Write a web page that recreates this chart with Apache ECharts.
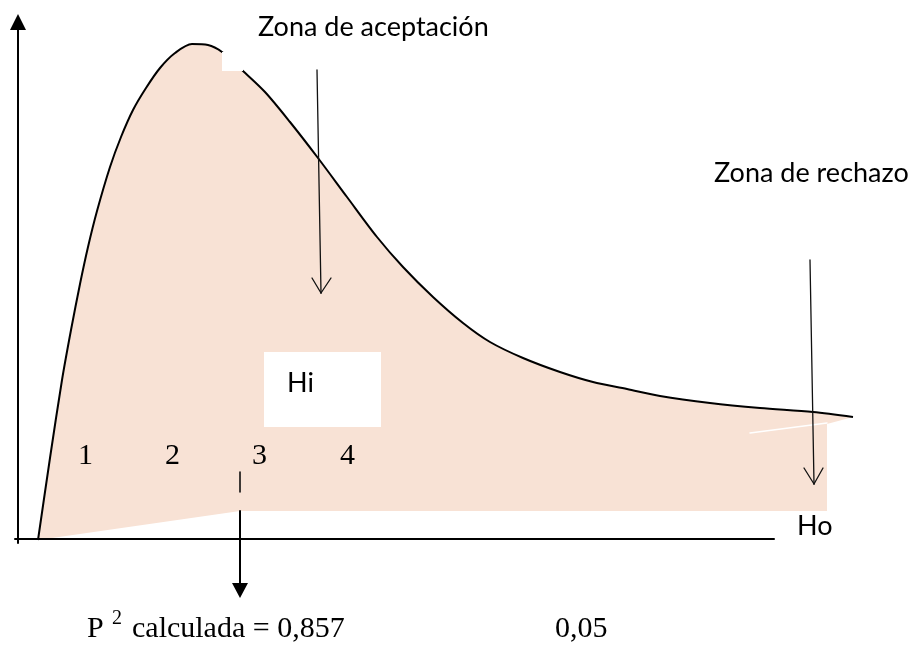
<!DOCTYPE html>
<html>
<head>
<meta charset="utf-8">
<script src="https://cdn.jsdelivr.net/npm/echarts@6/dist/echarts.min.js"></script>
<style>
  html, body { margin: 0; padding: 0; background: #fff; }
  #chart { width: 911px; height: 646px; }
</style>
</head>
<body>
<div id="chart"></div>
<script>
  // distribution curve (x to the right, y downward, same units as the picture)
  var curveX = [38, 50, 62, 71, 80, 88, 97, 110, 121, 133, 146, 160, 175, 192, 208, 222, 243, 265, 290, 318, 347, 377, 403, 433, 463, 490, 523, 560, 593, 627, 660, 710, 760, 813, 853]
  var curveY = [540, 458, 380, 330, 284, 247, 211, 167, 137, 110, 88, 68, 53, 44, 45, 52, 71, 92, 122, 158, 197, 237, 267, 297, 323, 342, 358, 372, 382, 389, 396, 403, 408, 412, 417]
  // lower edge of the shaded zone
  var shadeX = [38, 240, 827, 827, 853]
  var shadeY = [540, 511, 511, 424, 417]
  // white patches: x1, y1, x2, y2
  var patches = [[222, 52, 243, 71], [264, 352, 381, 427]]
  // axes and the marker under "3"
  var axisSegs = [[18, 543, 18, 28], [15, 539, 774, 539], [240, 511, 240, 585]]
  var tickSegs = [[240, 472, 240, 492]]
  // open arrows pointing to the zones
  var arrowSegs = [
    [317, 70, 321, 293], [312, 278, 321, 293], [331, 278, 321, 293],
    [810, 260, 814, 484], [804, 468, 814, 484], [823, 468, 814, 484]
  ]
  var seamSegs = [[750, 433, 827, 423]]
  // filled arrow heads
  var heads = [[[18, 14], [10, 30], [26, 30]], [[240, 598], [232, 583], [248, 583]]]
  // texts
  var sansLabels = [
    { x: 258, y: 27, text: 'Zona de aceptación' },
    { x: 714, y: 173, text: 'Zona de rechazo' },
    { x: 287, y: 383, text: 'Hi' },
    { x: 797, y: 526, text: 'Ho' }
  ]
  var serifLabels = [
    { x: 78, y: 456, text: '1' },
    { x: 165, y: 456, text: '2' },
    { x: 252, y: 456, text: '3' },
    { x: 340, y: 456, text: '4' },
    { x: 87, y: 629, text: 'P' },
    { x: 132, y: 629, text: 'calculada = 0,857' },
    { x: 555, y: 629, text: '0,05' }
  ]
  var supLabels = [{ x: 112, y: 619, text: '2' }]

  var chart = echarts.init(document.getElementById('chart'))

  function segSeries(name, segs, color, width, z) {
    return {
      name: name,
      type: 'custom',
      z: z,
      silent: true,
      data: segs,
      renderItem: function(params, api) {
        var s = segs[params.dataIndex]
        var p1 = api.coord([s[0], s[1]])
        var p2 = api.coord([s[2], s[3]])
        return {
          type: 'line',
          shape: { x1: p1[0], y1: p1[1], x2: p2[0], y2: p2[1] },
          style: { stroke: color, lineWidth: width, lineCap: 'round' }
        }
      }
    }
  }

  function textSeries(name, list, font, z) {
    return {
      name: name,
      type: 'custom',
      z: z,
      silent: true,
      data: list.map(function(d) { return [d.x, d.y] }),
      renderItem: function(params, api) {
        var d = list[params.dataIndex]
        var p = api.coord([d.x, d.y])
        return {
          type: 'text',
          x: p[0],
          y: p[1],
          style: { text: d.text, font: font, fill: '#000', align: 'left', verticalAlign: 'middle' }
        }
      }
    }
  }

  var curveData = curveX.map(function(x, i) { return [x, curveY[i]] })
  var maskPts = []
  for (var i = 0; i < shadeX.length; i++) maskPts.push([shadeX[i], shadeY[i]])

  chart.setOption({
    animation: false,
    grid: { left: 0, right: 0, top: 0, bottom: 0 },
    xAxis: { type: 'value', min: 0, max: 911, show: false },
    yAxis: { type: 'value', min: 0, max: 646, inverse: true, show: false },
    series: [
      {
        name: 'area',
        type: 'line',
        z: 1,
        smooth: 0.3,
        symbol: 'none',
        silent: true,
        data: curveData,
        lineStyle: { width: 0 },
        areaStyle: { color: '#F8E2D5', opacity: 1, origin: 'end' }
      },
      {
        name: 'mask',
        type: 'custom',
        z: 2,
        silent: true,
        data: [0],
        renderItem: function(params, api) {
          var pts = maskPts.map(function(p) { return api.coord(p) })
          pts.push(api.coord([853, 646]))
          pts.push(api.coord([38, 646]))
          return { type: 'polygon', shape: { points: pts }, style: { fill: '#fff' } }
        }
      },
      {
        name: 'curve',
        type: 'line',
        z: 3,
        smooth: 0.3,
        symbol: 'none',
        silent: true,
        data: curveData,
        lineStyle: { color: '#000', width: 2 }
      },
      {
        name: 'patches',
        type: 'custom',
        z: 4,
        silent: true,
        data: patches,
        renderItem: function(params, api) {
          var r = patches[params.dataIndex]
          var a = api.coord([r[0], r[1]])
          var b = api.coord([r[2], r[3]])
          return { type: 'rect', shape: { x: a[0], y: a[1], width: b[0] - a[0], height: b[1] - a[1] }, style: { fill: '#fff' } }
        }
      },
      segSeries('seam', seamSegs, '#fff', 1.5, 4),
      segSeries('axes', axisSegs, '#000', 2, 5),
      segSeries('tick', tickSegs, '#000', 1.5, 5),
      segSeries('arrows', arrowSegs, '#111', 1.3, 5),
      {
        name: 'heads',
        type: 'custom',
        z: 5,
        silent: true,
        data: heads,
        renderItem: function(params, api) {
          var pts = heads[params.dataIndex].map(function(p) { return api.coord(p) })
          return { type: 'polygon', shape: { points: pts }, style: { fill: '#000' } }
        }
      },
      textSeries('sans', sansLabels, '27px Lato', 6),
      textSeries('serif', serifLabels, '30px "Liberation Serif"', 6),
      textSeries('sup', supLabels, '20px "Liberation Serif"', 6)
    ]
  })
</script>
</body>
</html>
